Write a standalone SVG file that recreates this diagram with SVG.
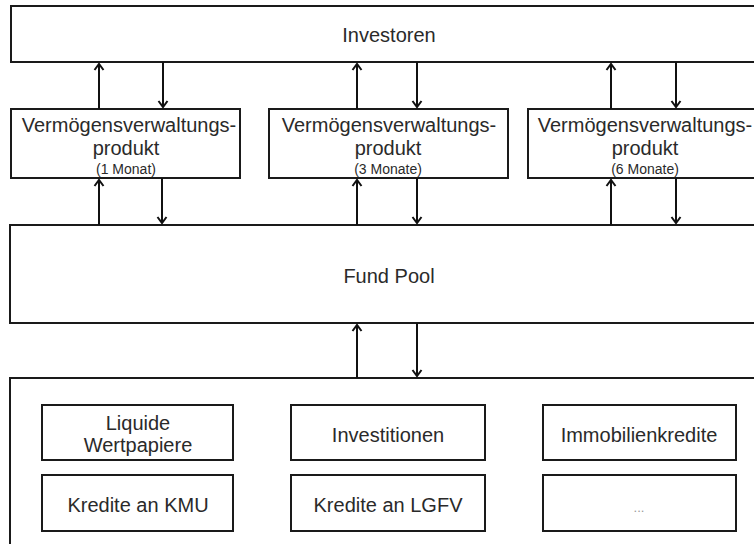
<svg xmlns="http://www.w3.org/2000/svg" width="754" height="544" viewBox="0 0 754 544">
<defs>
<marker id="ah" markerUnits="userSpaceOnUse" viewBox="-8 -6 10 12" refX="0" refY="0" markerWidth="10" markerHeight="12" orient="auto">
<path d="M -6 -4.5 L 0 0 L -6 4.5" fill="none" stroke="#111" stroke-width="2"/>
</marker>
</defs>
<style>
.box{fill:#fff;stroke:#1a1a1a;stroke-width:2}
.t{font-family:"Liberation Sans",Arial,sans-serif;fill:#2a2a2a;text-anchor:middle;font-size:20px}
.s{font-size:14px}
.dots{fill:#999;font-size:13px}
.c line{stroke:#111;stroke-width:2;marker-end:url(#ah)}
</style>
<rect x="0" y="0" width="754" height="544" fill="#fff"/>
<g id="investoren">
<rect class="box" x="11" y="6" width="760" height="56"/>
<text class="t" x="389" y="42">Investoren</text>
</g>
<g id="produkt1">
<rect class="box" x="11" y="109" width="229" height="69"/>
<text class="t" x="129" y="132">Vermögensverwaltungs-</text>
<text class="t" x="126" y="155">produkt</text>
<text class="t s" x="126" y="174">(1 Monat)</text>
</g>
<g id="produkt2">
<rect class="box" x="269" y="109" width="239" height="69"/>
<text class="t" x="389" y="132">Vermögensverwaltungs-</text>
<text class="t" x="388" y="155">produkt</text>
<text class="t s" x="388" y="174">(3 Monate)</text>
</g>
<g id="produkt3">
<rect class="box" x="528" y="109" width="239" height="69"/>
<text class="t" x="645" y="132">Vermögensverwaltungs-</text>
<text class="t" x="645" y="155">produkt</text>
<text class="t s" x="645" y="174">(6 Monate)</text>
</g>
<g id="fundpool">
<rect class="box" x="10" y="225" width="760" height="98"/>
<text class="t" x="389" y="283">Fund Pool</text>
</g>
<g id="anlagen">
<rect class="box" x="10" y="378" width="760" height="180"/>
</g>
<g id="liquide">
<rect class="box" x="42" y="405" width="191" height="55"/>
<text class="t" x="138" y="430">Liquide</text>
<text class="t" x="138" y="452">Wertpapiere</text>
</g>
<g id="investitionen">
<rect class="box" x="291" y="405" width="194" height="55"/>
<text class="t" x="388" y="442">Investitionen</text>
</g>
<g id="immobilien">
<rect class="box" x="543" y="405" width="193" height="55"/>
<text class="t" x="639" y="442">Immobilienkredite</text>
</g>
<g id="kmu">
<rect class="box" x="42" y="475" width="191" height="56"/>
<text class="t" x="138" y="512">Kredite an KMU</text>
</g>
<g id="lgfv">
<rect class="box" x="291" y="475" width="194" height="56"/>
<text class="t" x="388" y="512">Kredite an LGFV</text>
</g>
<g id="sonstige">
<rect class="box" x="543" y="475" width="193" height="56"/>
<text class="t dots" x="639" y="512">...</text>
</g>
<g id="connectors" class="c">
<line x1="99" y1="109" x2="99" y2="64"/>
<line x1="163" y1="62" x2="163" y2="107"/>
<line x1="357" y1="109" x2="357" y2="64"/>
<line x1="417" y1="62" x2="417" y2="107"/>
<line x1="611" y1="109" x2="611" y2="64"/>
<line x1="676" y1="62" x2="676" y2="107"/>
<line x1="99" y1="225" x2="99" y2="180"/>
<line x1="162" y1="178" x2="162" y2="223"/>
<line x1="357" y1="225" x2="357" y2="180"/>
<line x1="417" y1="178" x2="417" y2="223"/>
<line x1="611" y1="225" x2="611" y2="180"/>
<line x1="676" y1="178" x2="676" y2="223"/>
<line x1="357" y1="378" x2="357" y2="325"/>
<line x1="417" y1="323" x2="417" y2="376"/>
</g>
</svg>
